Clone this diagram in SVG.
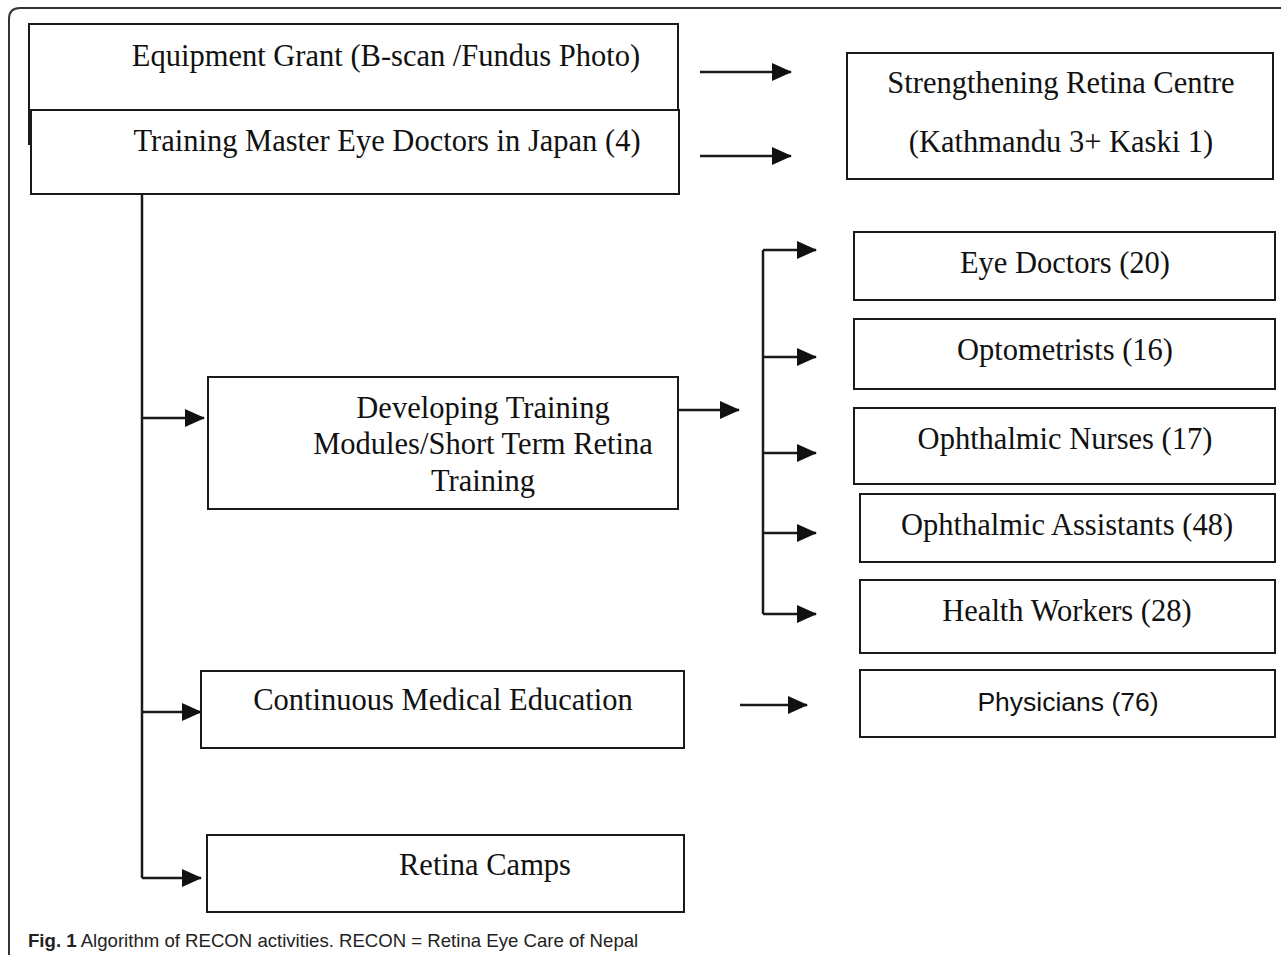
<svg xmlns="http://www.w3.org/2000/svg" width="1281" height="955" viewBox="0 0 1281 955">
<style>
.box{fill:#fff;stroke:#1a1a1a;stroke-width:2}
.t{font-family:"Liberation Serif","Times New Roman",serif;font-size:30.5px;fill:#111;text-anchor:middle}
.ts{font-family:"Liberation Sans",Arial,sans-serif;font-size:26.5px;fill:#111;text-anchor:middle}
.ln{fill:none;stroke:#1a1a1a;stroke-width:2.5}
.cap{font-family:"Liberation Sans",Arial,sans-serif;font-size:18.6px;fill:#222}
</style>
<defs>
<marker id="ah" markerWidth="20" markerHeight="18" refX="19" refY="9" orient="auto" markerUnits="userSpaceOnUse">
<path d="M0,0 L20,9 L0,18 Z" fill="#111"/>
</marker>
</defs>
<rect width="1281" height="955" fill="#fff"/>
<path d="M9,955 V19 Q9,8 20,8 H1290" fill="none" stroke="#333" stroke-width="2"/>

<g id="connectors">
<line class="ln" x1="700" y1="72" x2="791" y2="72" marker-end="url(#ah)"/>
<line class="ln" x1="700" y1="156" x2="791" y2="156" marker-end="url(#ah)"/>
<path class="ln" d="M142,194 V878"/>
<line class="ln" x1="142" y1="418" x2="204" y2="418" marker-end="url(#ah)"/>
<line class="ln" x1="142" y1="712" x2="201" y2="712" marker-end="url(#ah)"/>
<line class="ln" x1="142" y1="878" x2="201" y2="878" marker-end="url(#ah)"/>
<line class="ln" x1="678" y1="410" x2="739" y2="410" marker-end="url(#ah)"/>
<path class="ln" d="M763,250 V614"/>
<line class="ln" x1="763" y1="250" x2="816" y2="250" marker-end="url(#ah)"/>
<line class="ln" x1="763" y1="357" x2="816" y2="357" marker-end="url(#ah)"/>
<line class="ln" x1="763" y1="453" x2="816" y2="453" marker-end="url(#ah)"/>
<line class="ln" x1="763" y1="533" x2="816" y2="533" marker-end="url(#ah)"/>
<line class="ln" x1="763" y1="614" x2="816" y2="614" marker-end="url(#ah)"/>
<line class="ln" x1="740" y1="705" x2="807" y2="705" marker-end="url(#ah)"/>
</g>

<g id="equipment">
<rect class="box" x="29" y="24" width="649" height="120"/>
<text class="t" x="386" y="66">Equipment Grant (B-scan /Fundus Photo)</text>
</g>
<g id="training-master">
<rect class="box" x="31" y="110" width="648" height="84"/>
<text class="t" x="387" y="151">Training Master Eye Doctors in Japan (4)</text>
</g>
<g id="strengthening">
<rect class="box" x="847" y="53" width="426" height="126"/>
<text class="t" x="1061" y="93">Strengthening Retina Centre</text>
<text class="t" x="1061" y="152">(Kathmandu 3+ Kaski 1)</text>
</g>
<g id="developing">
<rect class="box" x="208" y="377" width="470" height="132"/>
<text class="t" x="483" y="418">Developing Training</text>
<text class="t" x="483" y="454">Modules/Short Term Retina</text>
<text class="t" x="483" y="491">Training</text>
</g>
<g id="eye-doctors">
<rect class="box" x="854" y="232" width="421" height="68"/>
<text class="t" x="1065" y="273">Eye Doctors (20)</text>
</g>
<g id="optometrists">
<rect class="box" x="854" y="319" width="421" height="70"/>
<text class="t" x="1065" y="360">Optometrists (16)</text>
</g>
<g id="nurses">
<rect class="box" x="854" y="408" width="421" height="76"/>
<text class="t" x="1065" y="449">Ophthalmic Nurses (17)</text>
</g>
<g id="assistants">
<rect class="box" x="860" y="494" width="415" height="68"/>
<text class="t" x="1067" y="535">Ophthalmic Assistants (48)</text>
</g>
<g id="health-workers">
<rect class="box" x="860" y="580" width="415" height="73"/>
<text class="t" x="1067" y="621">Health Workers (28)</text>
</g>
<g id="physicians">
<rect class="box" x="860" y="670" width="415" height="67"/>
<text class="ts" x="1068" y="711">Physicians (76)</text>
</g>
<g id="cme">
<rect class="box" x="201" y="671" width="483" height="77"/>
<text class="t" x="443" y="710">Continuous Medical Education</text>
</g>
<g id="camps">
<rect class="box" x="207" y="835" width="477" height="77"/>
<text class="t" x="485" y="875">Retina Camps</text>
</g>
<text class="cap" x="28" y="947"><tspan font-weight="bold">Fig. 1</tspan> Algorithm of RECON activities. RECON = Retina Eye Care of Nepal</text>
</svg>
